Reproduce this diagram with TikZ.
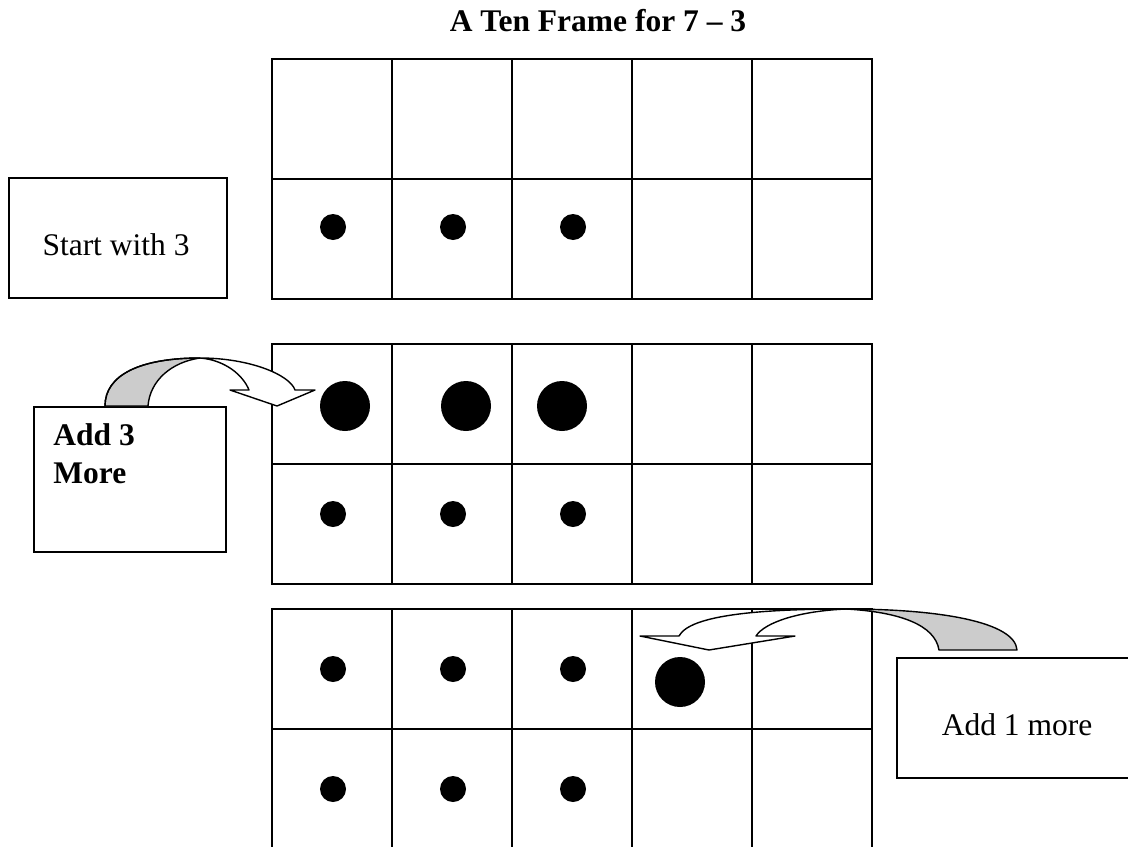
\documentclass[tikz,border=0pt]{standalone}
\usepackage{fontspec}
\setmainfont{Liberation Serif}
\usetikzlibrary{calc}

\tikzset{
  grid/.style={line width=1pt},
  textbox/.style={draw,line width=1pt,inner sep=0pt,anchor=north west},
  bent/.style={line width=0.7pt,line join=round},
  dot/.style={fill=black}
}

\begin{document}
\begin{tikzpicture}[x=0.5pt,y=-0.5pt]
  \fontsize{15.75}{18.9}\selectfont
  % Constants
  \pgfmathsetmacro\c{120}
  \pgfmathsetmacro\l{272}
  \pgfmathsetmacro\rs{13}
  \pgfmathsetmacro\rb{25}
  % Boundary
  \path[use as bounding box] (0,0) rectangle (1128,846);
  % Title
  \node[font=\bfseries,anchor=base] (title) at (598,32) {A Ten Frame for 7 -- 3};
  % Ten frames
  \foreach \t in {59,344,609} {
    \draw[grid] (\l,\t) rectangle (\l+5*\c,\t+2*\c);
    \draw[grid] (\l,\t+\c) -- (\l+5*\c,\t+\c);
    \foreach \i in {1,...,4}
      \draw[grid] (\l+\i*\c,\t) -- (\l+\i*\c,\t+2*\c);
  }
  % Counters
  \foreach \i in {0,1,2} {
    \fill[dot] (\l+\c/2+\i*\c+1,227) circle (\rs);
    \fill[dot] (\l+\c/2+\i*\c+1,514) circle (\rs);
    \fill[dot] (\l+\c/2+\i*\c+1,669) circle (\rs);
    \fill[dot] (\l+\c/2+\i*\c+1,789) circle (\rs);
  }
  \foreach \x in {345,466,562}
    \fill[dot] (\x,406) circle (\rb);
  \fill[dot] (680,682) circle (\rb);
  % Boxes
  \node[textbox,minimum width=218*0.5pt,minimum height=120*0.5pt] (start) at (8,177) {};
  \node[anchor=base] (starttext) at (116,255) {Start with 3};
  \node[textbox,minimum width=192*0.5pt,minimum height=145*0.5pt] (addthree) at (33,406) {};
  \node[font=\bfseries,anchor=base west,align=left,inner sep=0pt] (addthreetext) at (53,445) {Add 3};
  \node[font=\bfseries,anchor=base west,inner sep=0pt] (moretext) at (53,483) {More};
  \node[textbox,minimum width=250*0.5pt,minimum height=120*0.5pt] (addone) at (896,657) {};
  \node[anchor=base] (addonetext) at (1017,735) {Add 1 more};
  % Curved arrow, frame 2
  \filldraw[bent,fill=black!20] (105,406) .. controls (105,375) and (140,358) .. (200,358)
    .. controls (172,362) and (150,380) .. (148,406) -- cycle;
  \filldraw[bent,fill=white] (200,358) .. controls (250,358) and (290,375) .. (295,390)
    -- (315,390) -- (277,406) -- (230,390) -- (249,390)
    .. controls (243,375) and (225,360) .. (200,358) -- cycle;
  \draw[bent] (105,406) .. controls (105,375) and (140,358) .. (200,358);
  % Curved arrow, frame 3
  \filldraw[bent,fill=black!20] (1017,650) .. controls (1015,622) and (940,609) .. (846,609)
    .. controls (900,612) and (935,625) .. (939,650) -- cycle;
  \filldraw[bent,fill=white] (846,609) .. controls (760,609) and (690,615) .. (679,636)
    -- (640,636) -- (709,650) -- (795,636) -- (756,636)
    .. controls (765,622) and (800,611) .. (846,609) -- cycle;
\end{tikzpicture}
\end{document}
